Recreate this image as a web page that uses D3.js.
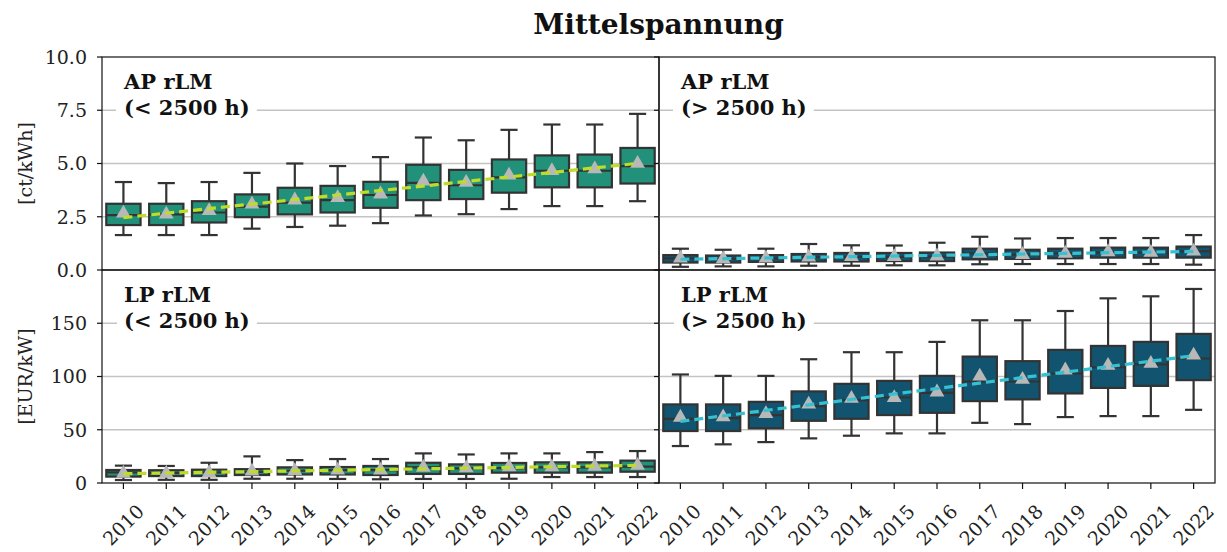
<!DOCTYPE html>
<html>
<head>
<meta charset="utf-8">
<script src="https://cdn.jsdelivr.net/npm/d3@7"></script>
<style>
  html, body { margin: 0; padding: 0; background: #fff; }
  svg { display: block; font-family: "DejaVu Serif", serif; }
</style>
</head>
<body>
<svg id="chart" width="1227" height="552"></svg>
<script>
// Years on the category axis
const years = ["2010","2011","2012","2013","2014","2015","2016","2017","2018","2019","2020","2021","2022"];

// Tick values for the two rows
const energyTicks = [0, 2.5, 5, 7.5, 10];
const energyTickLabels = ["0.0", "2.5", "5.0", "7.5", "10.0"];
const powerTicks = [0, 50, 100, 150];
const powerTickLabels = ["0", "50", "100", "150"];

// AP rLM (< 2500 h), ct/kWh
const apUnderLo   = [1.64, 1.64, 1.64, 1.94, 2.02, 2.08, 2.20, 2.56, 2.62, 2.86, 3.00, 3.00, 3.23];
const apUnderQ1   = [2.11, 2.11, 2.23, 2.48, 2.61, 2.70, 2.92, 3.28, 3.33, 3.63, 3.88, 3.88, 4.06];
const apUnderMed  = [2.58, 2.61, 2.70, 2.98, 3.16, 3.28, 3.52, 4.09, 3.98, 4.35, 4.66, 4.66, 4.88];
const apUnderQ3   = [3.11, 3.11, 3.23, 3.55, 3.86, 3.95, 4.14, 4.94, 4.70, 5.19, 5.38, 5.42, 5.73];
const apUnderHi   = [4.13, 4.08, 4.13, 4.56, 5.00, 4.88, 5.30, 6.22, 6.09, 6.58, 6.83, 6.83, 7.33];
const apUnderMean = [2.66, 2.62, 2.78, 3.09, 3.28, 3.39, 3.56, 4.17, 4.11, 4.45, 4.66, 4.74, 5.00];

// AP rLM (> 2500 h), ct/kWh
const apOverLo   = [0.15, 0.17, 0.17, 0.20, 0.20, 0.22, 0.22, 0.27, 0.28, 0.28, 0.28, 0.28, 0.25];
const apOverQ1   = [0.35, 0.35, 0.38, 0.40, 0.40, 0.42, 0.42, 0.50, 0.52, 0.55, 0.58, 0.58, 0.58];
const apOverMed  = [0.55, 0.52, 0.55, 0.60, 0.62, 0.62, 0.63, 0.78, 0.72, 0.78, 0.82, 0.82, 0.88];
const apOverQ3   = [0.70, 0.68, 0.70, 0.75, 0.80, 0.80, 0.82, 1.00, 0.95, 1.00, 1.05, 1.05, 1.10];
const apOverHi   = [1.00, 0.95, 1.00, 1.22, 1.16, 1.15, 1.28, 1.56, 1.48, 1.50, 1.50, 1.50, 1.64];
const apOverMean = [0.55, 0.52, 0.55, 0.60, 0.62, 0.62, 0.65, 0.78, 0.72, 0.78, 0.85, 0.82, 0.88];

// LP rLM (< 2500 h), EUR/kW
const lpUnderLo   = [2.8, 3.0, 3.0, 4.0, 4.0, 3.8, 3.5, 3.8, 3.8, 4.0, 5.6, 5.6, 5.6];
const lpUnderQ1   = [6.0, 6.5, 6.5, 7.5, 8.0, 8.0, 7.5, 8.5, 8.5, 9.7, 9.7, 9.7, 10.6];
const lpUnderMed  = [10.0, 9.5, 10.0, 10.5, 11.5, 12.0, 12.0, 14.7, 13.8, 14.0, 14.7, 14.7, 15.3];
const lpUnderQ3   = [12.2, 12.0, 12.5, 13.0, 14.7, 15.0, 16.0, 19.0, 17.5, 18.8, 19.4, 19.4, 21.0];
const lpUnderHi   = [16.3, 16.0, 19.0, 25.0, 21.5, 22.5, 22.5, 27.8, 26.8, 27.8, 27.8, 29.0, 30.0];
const lpUnderMean = [9.0, 9.0, 9.5, 11.0, 11.5, 12.0, 12.0, 14.5, 14.0, 15.0, 15.0, 15.5, 16.5];

// LP rLM (> 2500 h), EUR/kW
const lpOverLo   = [34.7, 36.3, 38.4, 41.9, 44.4, 46.6, 46.6, 56.5, 55.3, 61.9, 62.8, 62.8, 68.7];
const lpOverQ1   = [48.8, 48.8, 51.3, 58.4, 60.3, 63.8, 65.9, 76.9, 78.5, 84.1, 89.3, 91.2, 96.6];
const lpOverMed  = [60.3, 61.0, 63.8, 72.2, 77.8, 80.3, 84.7, 95.3, 95.3, 102.8, 108.7, 111.3, 116.9];
const lpOverQ3   = [73.8, 73.8, 76.2, 86.0, 93.1, 95.9, 100.6, 118.7, 114.4, 125.0, 128.7, 132.5, 140.0];
const lpOverHi   = [101.9, 100.6, 100.6, 116.2, 122.8, 122.8, 132.5, 152.8, 152.8, 161.5, 173.4, 175.3, 182.2];
const lpOverMean = [61.6, 62.0, 65.0, 74.0, 79.4, 80.0, 85.3, 100.3, 97.2, 106.0, 110.3, 112.2, 120.0];

// Colours
const greenFill = "#22917a";
const blueFill = "#12546f";
const greenTrend = "#bfdc2a";
const blueTrend = "#36c1d2";
const boxEdge = "#333333";
const meanColor = "#b8b8b8";
const gridColor = "#c4c4c4";

const svg = d3.select("#chart");

// Layout of the 2x2 grid
const colX = [[102, 659], [659, 1215]];
const rowY = [[57, 270], [270, 483]];

const yEnergy = d3.scaleLinear().domain([0, 10]).range([rowY[0][1], rowY[0][0]]);
const yPower = d3.scaleLinear().domain([0, 200]).range([rowY[1][1], rowY[1][0]]);

const xScales = colX.map(r => d3.scaleBand().domain(years).range(r).paddingInner(0).paddingOuter(0));

function stats(lo, q1, med, q3, hi, mean) {
  return years.map((y, i) => ({ year: y, lo: lo[i], q1: q1[i], med: med[i], q3: q3[i], hi: hi[i], mean: mean[i] }));
}

const panels = [
  { row: 0, col: 0, y: yEnergy, fill: greenFill, trend: greenTrend, title: ["AP rLM", "(< 2500 h)"],
    data: stats(apUnderLo, apUnderQ1, apUnderMed, apUnderQ3, apUnderHi, apUnderMean) },
  { row: 0, col: 1, y: yEnergy, fill: blueFill, trend: blueTrend, title: ["AP rLM", "(> 2500 h)"],
    data: stats(apOverLo, apOverQ1, apOverMed, apOverQ3, apOverHi, apOverMean) },
  { row: 1, col: 0, y: yPower, fill: greenFill, trend: greenTrend, title: ["LP rLM", "(< 2500 h)"],
    data: stats(lpUnderLo, lpUnderQ1, lpUnderMed, lpUnderQ3, lpUnderHi, lpUnderMean) },
  { row: 1, col: 1, y: yPower, fill: blueFill, trend: blueTrend, title: ["LP rLM", "(> 2500 h)"],
    data: stats(lpOverLo, lpOverQ1, lpOverMed, lpOverQ3, lpOverHi, lpOverMean) }
];

// Least-squares trend through the yearly means
function trendEnds(means) {
  const n = means.length;
  const mx = (n - 1) / 2;
  const my = d3.mean(means);
  let sxy = 0, sxx = 0;
  means.forEach((m, i) => { sxy += (i - mx) * (m - my); sxx += (i - mx) * (i - mx); });
  const b = sxy / sxx, a = my - b * mx;
  return [{ i: 0, v: a }, { i: n - 1, v: a + b * (n - 1) }];
}

panels.forEach(p => {
  const x = xScales[p.col];
  const y = p.y;
  const [x0, x1] = colX[p.col];
  const [y0, y1] = rowY[p.row];
  const ticks = p.row === 0 ? energyTicks : powerTicks;
  const g = svg.append("g");

  // horizontal grid
  g.selectAll("line.grid").data(ticks.filter(t => y(t) > y0 + 1 && y(t) < y1 - 1)).enter()
    .append("line").attr("class", "grid")
    .attr("x1", x0).attr("x2", x1)
    .attr("y1", d => y(d)).attr("y2", d => y(d))
    .attr("stroke", gridColor).attr("stroke-width", 1.3);

  // panel label with white backing
  const label = g.append("g");
  const txt = label.append("text")
    .attr("font-weight", "bold").attr("font-size", 21).attr("fill", "#111");
  p.title.forEach((line, k) => {
    txt.append("tspan").attr("x", x0 + 22).attr("y", y0 + 32 + k * 26).text(line);
  });
  const bb = txt.node().getBBox();
  label.insert("rect", "text")
    .attr("x", bb.x - 7).attr("y", bb.y - 4)
    .attr("width", bb.width + 14).attr("height", bb.height + 8)
    .attr("fill", "#fff");

  const bw = x.bandwidth() * 0.8;
  const cw = bw / 2;
  const boxes = g.selectAll("g.box").data(p.data).enter().append("g").attr("class", "box")
    .attr("transform", d => `translate(${x(d.year) + x.bandwidth() / 2},0)`);

  // whiskers and caps
  boxes.append("line").attr("x1", 0).attr("x2", 0)
    .attr("y1", d => y(d.hi)).attr("y2", d => y(d.q3))
    .attr("stroke", boxEdge).attr("stroke-width", 2.2);
  boxes.append("line").attr("x1", 0).attr("x2", 0)
    .attr("y1", d => y(d.q1)).attr("y2", d => y(d.lo))
    .attr("stroke", boxEdge).attr("stroke-width", 2.2);
  boxes.append("line").attr("x1", -cw / 2).attr("x2", cw / 2)
    .attr("y1", d => y(d.hi)).attr("y2", d => y(d.hi))
    .attr("stroke", boxEdge).attr("stroke-width", 2.2);
  boxes.append("line").attr("x1", -cw / 2).attr("x2", cw / 2)
    .attr("y1", d => y(d.lo)).attr("y2", d => y(d.lo))
    .attr("stroke", boxEdge).attr("stroke-width", 2.2);

  // interquartile box and median
  boxes.append("rect")
    .attr("x", -bw / 2).attr("width", bw)
    .attr("y", d => y(d.q3)).attr("height", d => y(d.q1) - y(d.q3))
    .attr("fill", p.fill).attr("stroke", boxEdge).attr("stroke-width", 2.2);
  boxes.append("line").attr("x1", -bw / 2).attr("x2", bw / 2)
    .attr("y1", d => y(d.med)).attr("y2", d => y(d.med))
    .attr("stroke", boxEdge).attr("stroke-width", 2.2);

  // dashed trend line
  const ends = trendEnds(p.data.map(d => d.mean));
  g.append("path")
    .datum(ends)
    .attr("d", d3.line().x(d => x(years[d.i]) + x.bandwidth() / 2).y(d => y(d.v)))
    .attr("fill", "none").attr("stroke", p.trend).attr("stroke-width", 3.2)
    .attr("stroke-dasharray", "9,5");

  // mean markers
  const tri = d3.symbol().type(d3.symbolTriangle).size(95);
  boxes.append("path")
    .attr("d", tri)
    .attr("transform", d => `translate(0,${y(d.mean)})`)
    .attr("fill", meanColor);

  // frame
  g.append("rect").attr("x", x0).attr("y", y0).attr("width", x1 - x0).attr("height", y1 - y0)
    .attr("fill", "none").attr("stroke", "#111").attr("stroke-width", 1.2);

  // left ticks
  g.selectAll("line.yt").data(ticks).enter().append("line")
    .attr("x1", x0 - 5).attr("x2", x0)
    .attr("y1", d => y(d)).attr("y2", d => y(d))
    .attr("stroke", "#111").attr("stroke-width", 1.2);

  if (p.col === 0) {
    const labels = p.row === 0 ? energyTickLabels : powerTickLabels;
    g.selectAll("text.yl").data(ticks).enter().append("text")
      .attr("x", x0 - 15).attr("y", d => y(d))
      .attr("dy", "0.36em").attr("text-anchor", "end")
      .attr("font-size", 19).attr("fill", "#222")
      .text((d, i) => labels[i]);
  }

  if (p.row === 1) {
    g.selectAll("line.xt").data(years).enter().append("line")
      .attr("x1", d => x(d) + x.bandwidth() / 2).attr("x2", d => x(d) + x.bandwidth() / 2)
      .attr("y1", y1).attr("y2", y1 + 6)
      .attr("stroke", "#111").attr("stroke-width", 1.2);
    g.selectAll("text.xl").data(years).enter().append("text")
      .attr("transform", d => `translate(${x(d) + x.bandwidth() / 2},${y1 + 42}) rotate(-45)`)
      .attr("text-anchor", "middle").attr("dy", "0.35em")
      .attr("font-size", 19).attr("fill", "#222")
      .text(d => d);
  }
});

// axis titles
svg.append("text")
  .attr("transform", `translate(25,${(rowY[0][0] + rowY[0][1]) / 2}) rotate(-90)`)
  .attr("text-anchor", "middle").attr("dy", "0.35em")
  .attr("font-size", 19).attr("fill", "#222").text("[ct/kWh]");
svg.append("text")
  .attr("transform", `translate(25,${(rowY[1][0] + rowY[1][1]) / 2}) rotate(-90)`)
  .attr("text-anchor", "middle").attr("dy", "0.35em")
  .attr("font-size", 19).attr("fill", "#222").text("[EUR/kW]");

// figure title
svg.append("text")
  .attr("x", (colX[0][0] + colX[1][1]) / 2).attr("y", 34)
  .attr("text-anchor", "middle")
  .attr("font-size", 28).attr("font-weight", "bold").attr("fill", "#111")
  .text("Mittelspannung");
</script>
</body>
</html>
